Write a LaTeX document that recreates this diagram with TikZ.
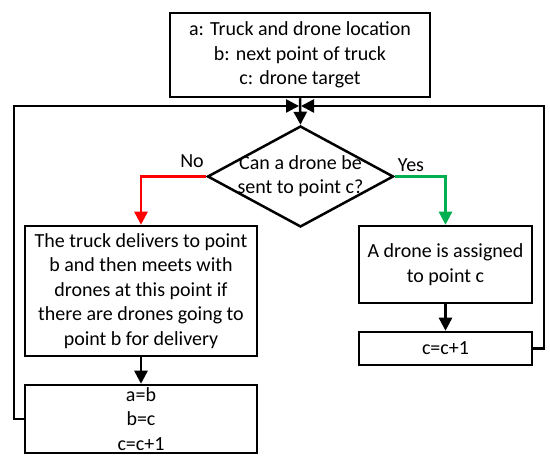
\documentclass[tikz,border=0pt]{standalone}
\usepackage{fontspec}
\setmainfont{Carlito}
\usetikzlibrary{arrows.meta,shapes.geometric}
\definecolor{offgreen}{RGB}{0,176,80}
\definecolor{offred}{RGB}{255,0,0}
\tikzset{
  box/.style={draw, line width=2.5pt, inner sep=0pt, align=center, font=\fontsize{20}{24.5}\selectfont},
  txt/.style={inner sep=0pt, align=center, font=\fontsize{20}{24.5}\selectfont},
  conn/.style={line width=2.5pt, -{Triangle[length=13pt,width=13pt]}},
}
\begin{document}
\begin{tikzpicture}[x=1pt,y=-1pt]
\useasboundingbox (0,0) rectangle (550,462);
% boxes
\node[box, minimum width=260, minimum height=84] (top) at (300,55) {a: Truck and drone location\\b: next point of truck\\c: drone target};
\node[draw, diamond, line width=2.5pt, minimum width=186, minimum height=101, inner sep=0pt] (dec) at (300.5,176.5) {};
\node[txt] (dectext) at (300.5,176) {Can a drone be\\sent to point c?};
\node[box, minimum width=232, minimum height=130] (lbox) at (141,291) {The truck delivers to point\\b and then meets with\\drones at this point if\\there are drones going to\\point b for delivery};
\node[box, minimum width=232, minimum height=68] (abc) at (141,419) {a=b\\b=c\\c=c+1};
\node[box, minimum width=173, minimum height=77] (rbox) at (445.5,264.5) {A drone is assigned\\to point c};
\node[box, minimum width=173, minimum height=33] (cinc) at (445.5,348.5) {c=c+1};
% labels
\node[txt] (no) at (192,161) {No};
\node[txt] (yes) at (411,165) {Yes};
% merge coordinates
\coordinate (mergeL) at (299,106);
\coordinate (mergeR) at (301,106);
% connectors
\draw[conn] (top.south) -- (dec.north);
\draw[conn, offred] (dec.west) -| (lbox.north);
\draw[conn, offgreen] (dec.east) -| (rbox.north);
\draw[conn] (lbox.south) -- (abc.north);
\draw[conn] (rbox.south) -- (cinc.north);
\draw[conn] (abc.west) -- ++(-10,0) |- (mergeL);
\draw[conn] (cinc.east) -- ++(10.5,0) |- (mergeR);
\end{tikzpicture}
\end{document}
